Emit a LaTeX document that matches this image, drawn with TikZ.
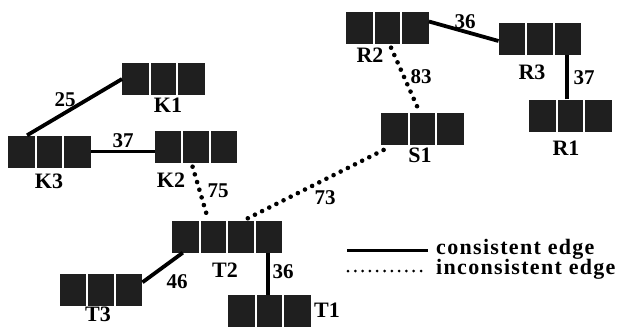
\documentclass[tikz,border=0pt]{standalone}
\usepackage{fontspec}
\setmainfont{Liberation Serif}
\newfontfamily\legfont[LetterSpace=6]{Liberation Serif}
\usetikzlibrary{calc}
\begin{document}
\begin{tikzpicture}[x=1pt,y=-1pt,
  cells/.style={rectangle, inner sep=0pt, minimum width=#1*27.5pt, minimum height=32pt,
    fill=black!88, draw=none,
    path picture={\foreach \i in {1,...,#1}{
      \ifnum\i<#1
      \draw[white,line width=2pt]
        ($(path picture bounding box.north west)!\i/#1!(path picture bounding box.north east)$) --
        ($(path picture bounding box.south west)!\i/#1!(path picture bounding box.south east)$);
      \fi}}},
  lbl/.style={font=\fontsize{22}{26}\selectfont\bfseries, inner sep=0pt},
  num/.style={font=\fontsize{21}{24}\selectfont\bfseries, inner sep=0pt},
  cons/.style={line width=3.8pt},
  incons/.style={line width=4.6pt, line cap=round, dash pattern=on 0pt off 8pt},
  leg/.style={font=\fontsize{22}{26}\selectfont\bfseries\legfont, inner sep=0pt, anchor=west}]
\useasboundingbox (0,0) rectangle (628,327);
% blocks
\node[cells=3] (K1) at (163.5,79) {};
\node[cells=3] (K3) at (49.5,151.5) {};
\node[cells=3] (K2) at (196,146.5) {};
\node[cells=4] (T2) at (227,236.5) {};
\node[cells=3] (T1) at (269.5,311) {};
\node[cells=3] (T3) at (101,289.5) {};
\node[cells=3] (S1) at (422.5,129) {};
\node[cells=3] (R2) at (387.5,27.5) {};
\node[cells=3] (R3) at (540,39) {};
\node[cells=3] (R1) at (570.5,115.5) {};
% labels
\node[lbl] (lK1) at (168,105) {K1};
\node[lbl] (lK3) at (49,181) {K3};
\node[lbl] (lK2) at (171,180) {K2};
\node[lbl] (lT2) at (225,270) {T2};
\node[lbl] (lT1) at (327,310) {T1};
\node[lbl] (lT3) at (98,314) {T3};
\node[lbl] (lS1) at (420,155) {S1};
\node[lbl] (lR2) at (370,55) {R2};
\node[lbl] (lR3) at (532,72) {R3};
\node[lbl] (lR1) at (566,148) {R1};
% consistent edges
\draw[cons] (K1.west) -- ([xshift=19pt]K3.north west);
\draw[cons] (K3.east) -- (K3.east -| K2.west);
\draw[cons] ([xshift=11pt]T2.south west) -- ([yshift=-9pt]T3.north east);
\draw[cons] ([xshift=-1.5pt]T1.north) -- ([xshift=-1.5pt]T1.north |- T2.south);
\draw[cons] ([yshift=6pt]R2.east) -- ([yshift=-2pt]R3.west);
\draw[cons] ([xshift=-3.5pt]R1.north) -- ([xshift=-3.5pt]R1.north |- R3.south);
% inconsistent edges
\draw[incons] ([xshift=38pt,yshift=-4pt]K2.south west) -- ([xshift=36pt,yshift=2pt]T2.north west);
\draw[incons] ([xshift=76pt,yshift=2pt]T2.north west) -- ([xshift=6pt,yshift=-3pt]S1.south west);
\draw[incons] ([xshift=45pt,yshift=-4pt]R2.south west) -- ([xshift=38pt,yshift=2pt]S1.north west);
% weights
\node[num] (w25) at (65,100) {25};
\node[num] (w37a) at (123,141) {37};
\node[num] (w75) at (218,191) {75};
\node[num] (w73) at (325,198) {73};
\node[num] (w46) at (177,282) {46};
\node[num] (w36a) at (283,272) {36};
\node[num] (w83) at (421,77) {83};
\node[num] (w36b) at (465,22) {36};
\node[num] (w37b) at (584,78) {37};
% legend
\coordinate (la1) at (347,250);
\coordinate (la2) at (428,250);
\coordinate (lb1) at (348,271);
\coordinate (lb2) at (428,271);
\draw[line width=3pt] (la1) -- (la2);
\draw[line width=3pt, line cap=round, dash pattern=on 0pt off 7.3pt] (lb1) -- (lb2);
\node[leg] (tc) at (436,249) {consistent edge};
\node[leg] (ti) at (436,269) {inconsistent edge};
\end{tikzpicture}
\end{document}
